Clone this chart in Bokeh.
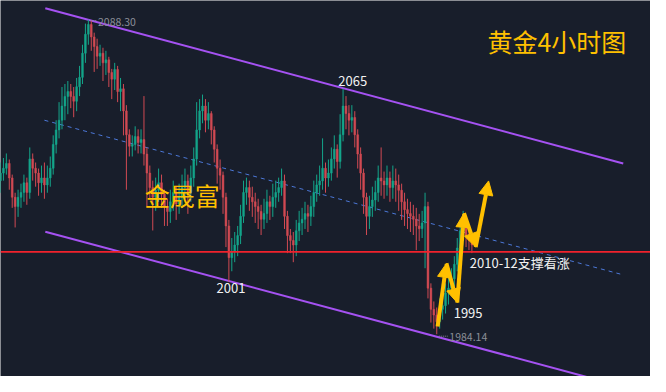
from bokeh.plotting import figure
from bokeh.models import ColumnDataSource, Range1d, Span, Arrow, NormalHead
from bokeh.core.properties import value
from bokeh.embed import file_html
from bokeh.resources import INLINE

# ---------------- data (4h gold candles) ----------------
opens = [2035.0, 2037.5, 2039.1, 2040.7, 2035.9, 2029.5, 2026.4, 2029.5, 2031.1, 2034.3,
         2031.1, 2042.2, 2039.1, 2037.5, 2034.3, 2035.9, 2033.6, 2035.9, 2039.1, 2047.0,
         2051.8, 2055.0, 2059.7, 2062.9, 2064.5, 2062.9, 2061.3, 2066.1, 2069.2, 2077.2,
         2083.5, 2086.7, 2082.6, 2079.4, 2076.2, 2077.2, 2074.0, 2075.0, 2070.8, 2068.6,
         2071.8, 2064.5, 2065.4, 2058.1, 2050.2, 2046.4, 2047.0, 2049.6, 2047.6, 2048.6,
         2043.8, 2037.5, 2032.7, 2029.5, 2031.8, 2034.3, 2030.5, 2026.4, 2024.8, 2028.0,
         2031.1, 2027.3, 2029.5, 2032.7, 2034.9, 2031.1, 2035.9, 2042.2, 2051.8, 2058.1,
         2059.7, 2055.0, 2057.2, 2051.8, 2045.4, 2039.1, 2036.8, 2029.5, 2020.0, 2009.5,
         2011.4, 2013.7, 2016.8, 2023.2, 2031.1, 2032.7, 2029.5, 2028.0, 2026.4, 2024.8,
         2022.2, 2024.1, 2028.0, 2026.4, 2029.5, 2031.1, 2032.7, 2034.9, 2023.2, 2016.8,
         2015.2, 2013.7, 2018.4, 2021.0, 2022.2, 2024.1, 2023.2, 2026.4, 2031.1, 2033.6,
         2034.9, 2039.1, 2035.9, 2037.5, 2042.2, 2045.4, 2041.3, 2050.2, 2059.7, 2057.2,
         2055.0, 2055.9, 2050.2, 2043.8, 2037.5, 2029.5, 2023.2, 2026.4, 2028.6, 2031.1,
         2035.9, 2034.9, 2033.6, 2035.9, 2032.7, 2034.9, 2033.6, 2031.8, 2028.0, 2025.4,
         2024.1, 2023.2, 2022.2, 2020.0, 2019.1, 2021.0, 2026.4, 1999.4, 1992.4, 1990.5,
         1988.3, 1992.4, 1993.6, 1997.8, 1999.4, 2002.5, 2007.3, 2012.7, 2018.4, 2020.0,
         2016.8, 2015.2]
closes = [2037.5, 2039.1, 2040.7, 2035.9, 2029.5, 2026.4, 2029.5, 2031.1, 2034.3, 2031.1,
          2042.2, 2039.1, 2037.5, 2034.3, 2035.9, 2033.6, 2035.9, 2039.1, 2047.0, 2051.8,
          2055.0, 2059.7, 2062.9, 2064.5, 2062.9, 2061.3, 2066.1, 2069.2, 2077.2, 2083.5,
          2086.7, 2082.6, 2079.4, 2076.2, 2077.2, 2074.0, 2075.0, 2070.8, 2068.6, 2071.8,
          2064.5, 2065.4, 2058.1, 2050.2, 2046.4, 2047.0, 2049.6, 2047.6, 2048.6, 2043.8,
          2037.5, 2032.7, 2029.5, 2031.8, 2034.3, 2030.5, 2026.4, 2024.8, 2028.0, 2031.1,
          2027.3, 2029.5, 2032.7, 2034.9, 2031.1, 2035.9, 2042.2, 2051.8, 2058.1, 2059.7,
          2055.0, 2057.2, 2051.8, 2045.4, 2039.1, 2036.8, 2029.5, 2020.0, 2009.5, 2011.4,
          2013.7, 2016.8, 2023.2, 2031.1, 2032.7, 2029.5, 2028.0, 2026.4, 2024.8, 2022.2,
          2024.1, 2028.0, 2026.4, 2029.5, 2031.1, 2032.7, 2034.9, 2023.2, 2016.8, 2015.2,
          2013.7, 2018.4, 2021.0, 2022.2, 2024.1, 2023.2, 2026.4, 2031.1, 2033.6, 2034.9,
          2039.1, 2035.9, 2037.5, 2042.2, 2045.4, 2041.3, 2050.2, 2059.7, 2057.2, 2055.0,
          2055.9, 2050.2, 2043.8, 2037.5, 2029.5, 2023.2, 2026.4, 2028.6, 2031.1, 2035.9,
          2034.9, 2033.6, 2035.9, 2032.7, 2034.9, 2033.6, 2031.8, 2028.0, 2025.4, 2024.1,
          2023.2, 2022.2, 2020.0, 2019.1, 2021.0, 2026.4, 1999.4, 1992.4, 1990.5, 1988.3,
          1992.4, 1993.6, 1997.8, 1999.4, 2002.5, 2007.3, 2012.7, 2018.4, 2020.0, 2016.8,
          2015.2, 2013.7]
highs = [2041.0, 2042.5, 2044.0, 2042.0, 2037.0, 2031.0, 2032.0, 2034.0, 2037.0, 2036.0,
         2046.0, 2044.0, 2041.0, 2039.0, 2040.0, 2041.0, 2040.0, 2043.0, 2050.0, 2055.0,
         2061.0, 2066.0, 2067.0, 2068.0, 2067.0, 2066.0, 2069.0, 2073.0, 2080.0, 2087.0,
         2088.3, 2088.0, 2084.0, 2082.0, 2080.0, 2079.0, 2078.0, 2076.0, 2072.0, 2074.0,
         2073.0, 2069.0, 2067.0, 2060.0, 2052.0, 2050.0, 2053.0, 2052.0, 2052.0, 2063.0,
         2046.0, 2040.0, 2035.0, 2036.0, 2039.0, 2037.0, 2032.0, 2029.0, 2032.0, 2035.0,
         2033.0, 2034.0, 2037.0, 2039.0, 2037.0, 2040.0, 2046.0, 2061.0, 2062.0, 2063.5,
         2062.0, 2061.0, 2058.0, 2053.0, 2047.0, 2042.0, 2038.0, 2031.0, 2022.0, 2016.0,
         2018.0, 2020.0, 2027.0, 2035.0, 2036.0, 2035.0, 2033.0, 2031.0, 2029.0, 2027.0,
         2029.0, 2032.0, 2030.0, 2034.0, 2035.0, 2036.0, 2039.0, 2037.0, 2025.0, 2019.0,
         2018.0, 2022.0, 2025.0, 2026.0, 2028.0, 2027.0, 2030.0, 2035.0, 2037.0, 2040.0,
         2049.0, 2041.0, 2042.0, 2046.0, 2050.0, 2047.0, 2057.0, 2065.4, 2063.0, 2060.0,
         2060.0, 2058.0, 2052.0, 2046.0, 2039.0, 2031.0, 2030.0, 2033.0, 2035.0, 2040.0,
         2046.0, 2038.0, 2040.0, 2038.0, 2040.0, 2039.0, 2037.0, 2034.0, 2031.0, 2029.0,
         2028.0, 2027.0, 2026.0, 2024.0, 2025.0, 2031.0, 2028.0, 2001.0, 1995.0, 1993.0,
         1996.0, 1998.0, 2001.0, 2003.0, 2006.0, 2010.0, 2016.0, 2022.0, 2025.0, 2022.0,
         2019.0, 2017.0]
lows = [2031.0, 2035.0, 2037.0, 2032.0, 2026.0, 2019.5, 2023.0, 2026.0, 2028.0, 2027.0,
        2029.0, 2035.0, 2033.0, 2030.0, 2031.0, 2029.0, 2031.0, 2033.0, 2037.0, 2044.0,
        2049.0, 2052.0, 2055.0, 2057.0, 2059.0, 2056.0, 2058.0, 2063.0, 2067.0, 2074.0,
        2080.0, 2078.0, 2071.0, 2072.0, 2073.0, 2068.0, 2070.0, 2066.0, 2062.0, 2065.0,
        2061.0, 2058.0, 2050.0, 2032.0, 2043.0, 2043.0, 2045.0, 2044.0, 2044.0, 2040.0,
        2026.0, 2029.0, 2018.5, 2025.0, 2028.0, 2026.0, 2020.0, 2020.0, 2021.0, 2025.0,
        2022.0, 2024.0, 2026.0, 2029.0, 2024.0, 2028.0, 2033.0, 2040.0, 2049.0, 2054.0,
        2051.0, 2052.0, 2047.0, 2041.0, 2034.0, 2032.0, 2024.0, 2013.0, 2001.5, 2005.0,
        2008.0, 2010.0, 2014.0, 2021.0, 2027.0, 2025.0, 2023.0, 2021.0, 2019.0, 2017.0,
        2019.0, 2021.0, 2022.0, 2023.0, 2026.0, 2028.0, 2030.0, 2019.0, 2011.0, 2011.0,
        2008.0, 2010.0, 2015.0, 2017.0, 2019.0, 2018.0, 2020.0, 2023.0, 2028.0, 2030.0,
        2032.0, 2031.0, 2033.0, 2035.0, 2039.0, 2036.0, 2039.0, 2048.0, 2052.0, 2050.0,
        2051.0, 2046.0, 2039.0, 2032.0, 2024.0, 2017.0, 2019.0, 2023.0, 2025.0, 2028.0,
        2030.0, 2029.0, 2030.0, 2028.0, 2029.0, 2028.0, 2025.0, 2022.0, 2020.0, 2019.0,
        2018.0, 2017.0, 2012.0, 2015.0, 2016.0, 2006.0, 1996.0, 1988.0, 1986.0, 1984.14,
        1986.0, 1989.0, 1991.0, 1994.0, 1997.0, 2000.0, 2005.0, 2010.0, 2015.0, 2013.0,
        2012.0, 2011.0]

# channel / reference lines (bar index, price)
upper_x = [15.3, 212.7]
upper_y = [2092.1, 2040.7]
lower_x = [15.3, 201.0]
lower_y = [2018.1, 1969.8]
mid_x = [15.0, 212.7]
mid_y = [2055.0, 2003.8]
support_level = 2011.4

# zig-zag forecast arrows: (x0, y0, x1, y1)
arrow_x0 = [149.3, 152.3, 156.0, 158.3, 162.3]
arrow_y0 = [1986.7, 2007.6, 1994.6, 2024.2, 2013.0]
arrow_x1 = [152.3, 156.0, 158.3, 162.3, 166.7]
arrow_y1 = [2007.6, 1994.6, 2024.2, 2013.0, 2034.9]

# ---------------- figure ----------------
BG = "#181e2b"
UP = "#14a58a"
DOWN = "#d04a53"
YELLOW = "#ffc000"
CJK = value("Noto Sans CJK SC")

n = len(closes)
idx = list(range(n))
colors = [UP if c >= o else DOWN for o, c in zip(opens, closes)]
src = ColumnDataSource(dict(
    x=idx,
    top=[max(o, c) for o, c in zip(opens, closes)],
    bottom=[min(o, c) for o, c in zip(opens, closes)],
    high=highs, low=lows, color=colors))

p = figure(width=650, height=376, output_backend="svg", toolbar_location=None,
           x_range=Range1d(0.0, 222.0), y_range=Range1d(1970.15, 2094.65),
           min_border=0, background_fill_color=BG, border_fill_color=BG)
p.axis.visible = False
p.grid.visible = False
p.outline_line_color = None

# channel and midline
p.line(upper_x, upper_y, line_color="#a552f2", line_width=2)
p.line(lower_x, lower_y, line_color="#a552f2", line_width=2)
p.line(mid_x, mid_y, line_color="#4c78d8", line_width=1, line_dash="4 4")

# candles
p.segment(x0="x", y0="high", x1="x", y1="low", color="color", line_width=1, source=src)
p.vbar(x="x", width=0.62, top="top", bottom="bottom", fill_color="color",
       line_color="color", line_width=0.5, source=src)

# support line
p.add_layout(Span(location=support_level, dimension="width",
                  line_color="#f0222c", line_width=1.6))

# price labels
p.segment(x0=[31.0, 149.7], y0=[2088.0, 1983.5], x1=[33.0, 152.7], y1=[2088.0, 1983.5],
          line_color="#8b8f98", line_width=1, line_dash="1 1")
p.text(x=[33.3, 153.3], y=[2087.6, 1983.1], text=["2088.30", "1984.14"],
       text_color="#8b8f98", text_font=CJK, text_font_size="10.5px",
       text_align="left", text_baseline="middle")

p.text(x=[120.3, 78.7, 159.7], y=[2068.0, 1999.4, 1991.1],
       text=["2065", "2001", "1995"], text_color="#f2f2f2", text_font=CJK,
       text_font_size="13px", text_align="center", text_baseline="middle")
p.text(x=[160.3], y=[2007.9], text=["2010-12支撑看涨"], text_color="#f2f2f2",
       text_font=CJK, text_font_size="13px", text_align="left", text_baseline="middle")

p.text(x=[166.3], y=[2081.3], text=["黄金4小时图"], text_color=YELLOW, text_font=CJK,
       text_font_size="25px", text_align="left", text_baseline="middle")
p.text(x=[49.3], y=[2030.2], text=["金晟富"], text_color=YELLOW, text_font=CJK,
       text_font_size="25px", text_align="left", text_baseline="middle")

# arrows
for xa, ya, xb, yb in zip(arrow_x0, arrow_y0, arrow_x1, arrow_y1):
    p.add_layout(Arrow(end=NormalHead(size=14, fill_color=YELLOW, line_color=YELLOW),
                       x_start=xa, y_start=ya, x_end=xb, y_end=yb,
                       line_color=YELLOW, line_width=4))

open("out.html", "w").write(file_html(p, INLINE))
